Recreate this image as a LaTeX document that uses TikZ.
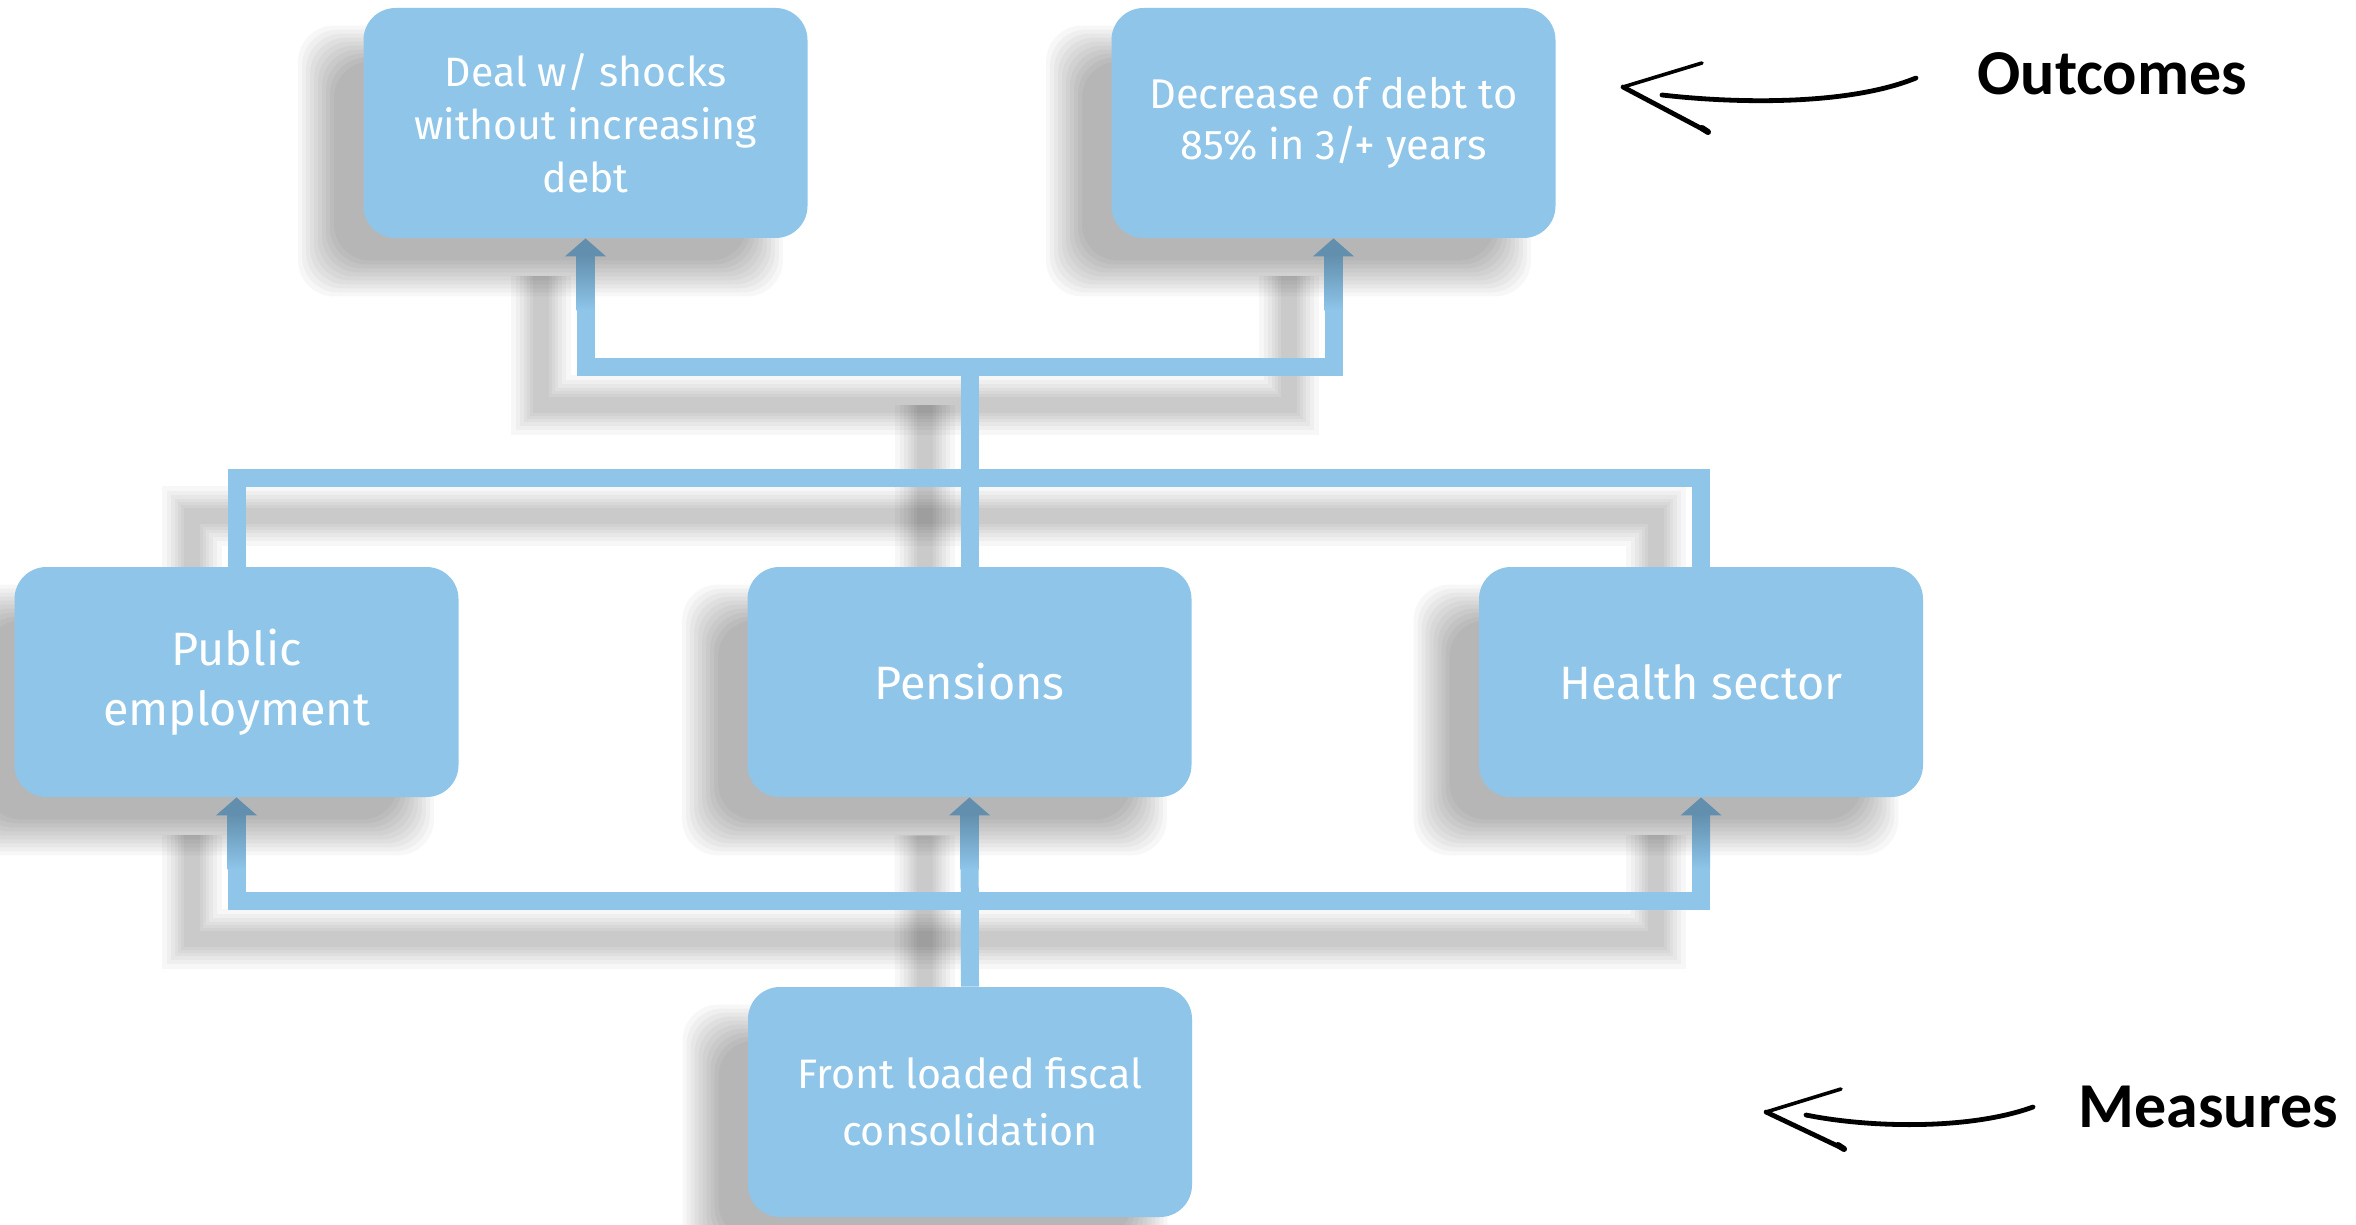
\documentclass[tikz,border=0pt]{standalone}
\usepackage{fontspec}
\setmainfont{Fira Sans}
\newfontfamily\calfont{Carlito}
\usetikzlibrary{arrows.meta,calc}
\definecolor{boxblue}{RGB}{142,197,233}
\definecolor{tipblue}{RGB}{98,143,173}
\pgfdeclarelayer{bg}
\pgfsetlayers{bg,main}
\newcommand{\gradshaft}[1]{\shade[top color=tipblue, bottom color=boxblue] ($(#1)+(-9,17)$) rectangle ($(#1)+(9,72)$);}
\newcommand{\boxshadow}[1]{%
  \foreach \e in {20,16,12,8,4,0,-4,-8,-12,-16}{%
    \fill[black, opacity=0.033, rounded corners=18pt]
      ($(#1.south west)+({-45-(\e)},{38+(\e)})$) rectangle ($(#1.north east)+({-45+(\e)},{38-(\e)})$);}}
\begin{document}
\begin{tikzpicture}[x=0.5pt,y=-0.5pt,
  mbox/.style={draw=none, fill=boxblue, rounded corners=16pt, text=white, align=center, inner sep=0pt,
    minimum width=222pt, minimum height=115pt},
  mconn/.style={draw=boxblue, line width=9pt},
  mtip/.style={-{Triangle[length=9pt,width=20pt,color=tipblue]}},
  mshad/.style={line width=#1, draw=black, opacity=0.032},
  mhand/.style={draw=black, line width=2.4pt, line cap=round, line join=round},
  mlabel/.style={font=\calfont\bfseries\fontsize{32}{38}\selectfont, anchor=base west, inner sep=0pt}]
\begin{pgfonlayer}{bg}
\fill[white] (0,0) rectangle (2356,1225);
\end{pgfonlayer}
\useasboundingbox (0,0) rectangle (2356,1225);

% boxes
\node[mbox, font=\fontsize{20.5}{26.5}\selectfont] (deal) at (585.5,123) {Deal w/ shocks\\without increasing\\debt};
\node[mbox, font=\fontsize{20.8}{25.5}\selectfont] (decr) at (1333.5,123) {Decrease of debt to\\85\% in 3/+ years};
\node[mbox, font=\fontsize{23.4}{30}\selectfont] (pub) at (236.5,682) {Public\\employment};
\node[mbox, font=\fontsize{23.4}{30}\selectfont] (pen) at (969.5,682) {Pensions};
\node[mbox, font=\fontsize{23.4}{30}\selectfont] (hea) at (1701,682) {Health sector};
\node[mbox, font=\fontsize{20.6}{28.5}\selectfont] (front) at (970,1102) {Front loaded fiscal\\consolidation};

\coordinate (ytop) at (0,367);
\coordinate (ymid) at (0,478);
\coordinate (ybot) at (0,901);

% shadows
\begin{pgfonlayer}{bg}
\boxshadow{deal}
\boxshadow{decr}
\boxshadow{pub}
\boxshadow{pen}
\boxshadow{hea}
\boxshadow{front}
\begin{scope}[transform canvas={xshift=-22.5pt,yshift=-19pt}]
\foreach \w in {30,25,21,17,14,11,8}{
  \draw[mshad=\w pt] (pub.north) |- (pen.north |- ymid) -| (hea.north);
  \draw[mshad=\w pt] (pen.north) -- (pen.north |- ytop);
  \draw[mshad=\w pt] (deal.south) |- (decr.south |- ytop) -- (decr.south);
  \draw[mshad=\w pt] (front.north) -- (pen.south);
  \draw[mshad=\w pt] (pub.south) |- (hea.south |- ybot) -- (hea.south);
}
\end{scope}
\end{pgfonlayer}

% connectors
\draw[mconn] (pub.north) |- (pen.north |- ymid) -| (hea.north);
\draw[mconn] (pen.north) -- (pen.north |- ytop);
\draw[mconn, mtip] (pen.north |- ytop) -| (deal.south);
\draw[mconn, mtip] (pen.north |- ytop) -| (decr.south);
\draw[mconn, mtip] (front.north) -- (pen.south);
\draw[mconn, mtip] (front.north |- ybot) -| (pub.south);
\draw[mconn, mtip] (front.north |- ybot) -| (hea.south);
\gradshaft{deal.south}
\gradshaft{decr.south}
\gradshaft{pub.south}
\gradshaft{pen.south}
\gradshaft{hea.south}

% labels with hand-drawn arrows
\node[mlabel] (outc) at (1977,95) {Outcomes};
\node[mlabel] (meas) at (2078,1127) {Measures};

\coordinate (otip) at (1623,87);
\coordinate (oup) at (1702,63);
\coordinate (olow) at (1708,132);
\coordinate (os) at (1916,78);
\coordinate (oe) at (1662,95);
\draw[mhand, line width=1.8pt] (oup) -- (otip);
\draw[mhand] (otip) -- (olow);
\draw[mhand, line width=3pt] ($(olow)+(-6,-4)$) -- (olow);
\draw[mhand] (os) .. controls (1850,105) and (1740,104) .. (oe);

\coordinate (mtipc) at (1766,1112);
\coordinate (mup) at (1841,1089);
\coordinate (mlow) at (1844,1149);
\coordinate (ms) at (2033,1107);
\coordinate (me) at (1806,1115);
\draw[mhand, line width=1.8pt] (mup) -- (mtipc);
\draw[mhand] (mtipc) -- (mlow);
\draw[mhand, line width=3pt] ($(mlow)+(-6,-4)$) -- (mlow);
\draw[mhand] (ms) .. controls (1970,1130) and (1870,1128) .. (me);
\end{tikzpicture}
\end{document}
